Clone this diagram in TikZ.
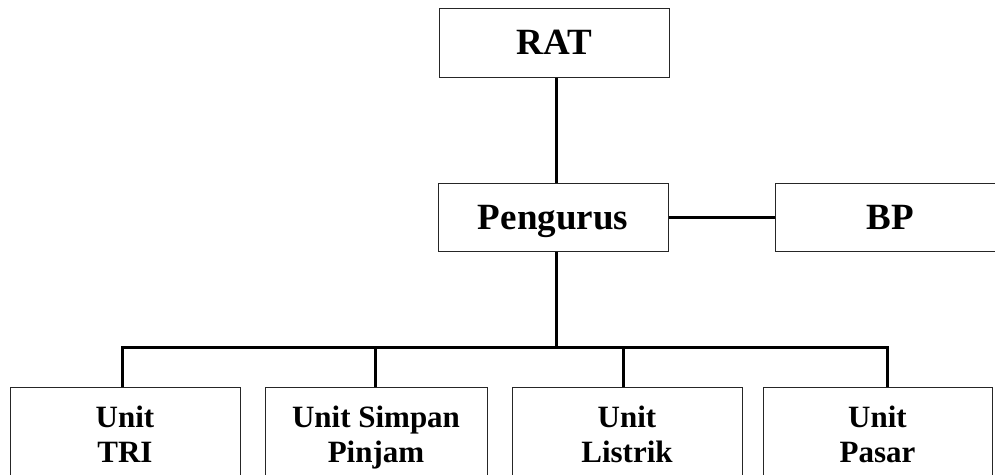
\documentclass[tikz,border=0pt]{standalone}
\usepackage{fontspec}
\setmainfont{Liberation Serif}
\begin{document}
\begin{tikzpicture}[x=1pt,y=-1pt,
  box/.style={draw=black!85, line width=1pt, fill=white, inner sep=0pt},
  topbox/.style={box, minimum width=230pt, minimum height=68pt,
    font=\fontsize{37}{42}\selectfont\bfseries, text height=24pt, text depth=0pt},
  unitbox/.style={box, anchor=north, minimum height=94pt, align=center,
    font=\fontsize{31}{35}\selectfont\bfseries, text height=56pt, text depth=0pt},
  link/.style={line width=3pt, black}]
\useasboundingbox (0,0) rectangle (995,474);
\clip (0,0) rectangle (995,474);

% top levels
\node[topbox, minimum height=69pt] (rat) at (554,42.5) {RAT};
\node[topbox] (peng) at (553,217) {Pengurus};
\node[topbox] (bp) at (890,217) {BP};

% units
\node[unitbox, minimum width=230pt] (u1) at (125,387) {Unit\\TRI};
\node[unitbox, minimum width=222pt] (u2) at (376,387) {Unit Simpan\\Pinjam};
\node[unitbox, minimum width=230pt] (u3) at (627,387) {Unit\\Listrik};
\node[unitbox, minimum width=229pt] (u4) at (877.5,387) {Unit\\Pasar};

% trunk and bus
\coordinate (hub) at (556,347);
\coordinate (d1) at (122,347);
\coordinate (d2) at (375,347);
\coordinate (d3) at (623,347);
\coordinate (d4) at (887,347);

\draw[link] (hub |- rat.south) -- (hub |- peng.north);
\draw[link] (hub |- peng.south) -- (hub);
\draw[link] (peng.east) -- (bp.west);
\draw[link] (d1 |- u1.north) -- (d1) -- (d4) -- (d4 |- u4.north);
\draw[link] (d2) -- (d2 |- u2.north);
\draw[link] (d3) -- (d3 |- u3.north);
\end{tikzpicture}
\end{document}
